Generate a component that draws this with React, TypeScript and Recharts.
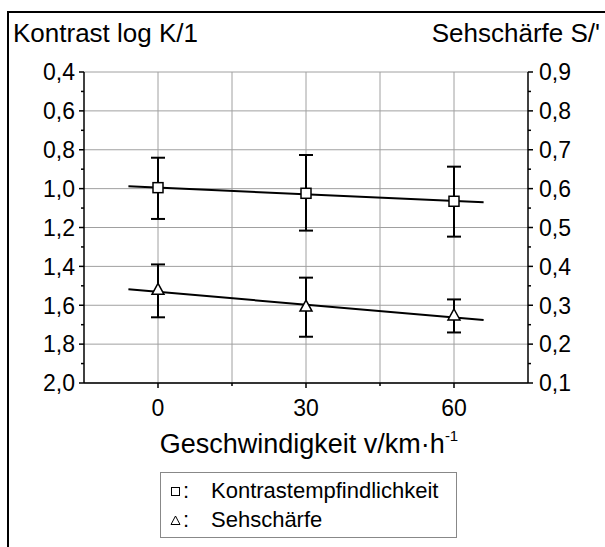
import React from "react";
import { ComposedChart, Scatter, XAxis, YAxis, CartesianGrid, ErrorBar } from "recharts";

const speeds = [0, 30, 60];
const contrast = [0.995, 1.024, 1.065];
const contrastUpper = [0.841, 0.827, 0.887];
const contrastLower = [1.156, 1.216, 1.247];
const acuity = [0.341, 0.298, 0.275];
const acuityHigh = [0.405, 0.371, 0.315];
const acuityLow = [0.269, 0.219, 0.23];

// Regressionsgeraden
const fitSpeeds = [-6, 66];
const contrastFit = [0.988, 1.07];
const acuityFit = [0.341, 0.262];

// Achsen
const leftMajor = [0.4, 0.6, 0.8, 1.0, 1.2, 1.4, 1.6, 1.8, 2.0];
const leftMinor = [0.5, 0.7, 0.9, 1.1, 1.3, 1.5, 1.7, 1.9];
const rightMajor = [0.1, 0.2, 0.3, 0.4, 0.5, 0.6, 0.7, 0.8, 0.9];
const rightMinor = [0.15, 0.25, 0.35, 0.45, 0.55, 0.65, 0.75, 0.85];
const xMajor = [0, 30, 60];
const xMinor = [15, 45];
const xGrid = [0, 15, 30, 45, 60];

const legendRows = ["Kontrastempfindlichkeit", "Sehschärfe"];

const FONT = "'Liberation Sans', Arial, Helvetica, sans-serif";
const TICK_FONT = 23;
const TITLE_FONT = 26;

const contrastData = speeds.map((s, i) => ({
  x: s,
  y: contrast[i],
  err: [contrast[i] - contrastUpper[i], contrastLower[i] - contrast[i]],
}));
const acuityData = speeds.map((s, i) => ({
  x: s,
  y: acuity[i],
  err: [acuity[i] - acuityLow[i], acuityHigh[i] - acuity[i]],
}));
const contrastFitData = fitSpeeds.map((s, i) => ({ x: s, y: contrastFit[i] }));
const acuityFitData = fitSpeeds.map((s, i) => ({ x: s, y: acuityFit[i] }));

const fmt = (v: number) => v.toFixed(1).replace(".", ",");
const isIn = (list: number[], v: number) => list.some((m) => Math.abs(m - v) < 1e-6);

const Square = (props: any) => {
  const { cx, cy } = props;
  return <rect x={cx - 5} y={cy - 5} width={10} height={10} fill="#fff" stroke="#000" strokeWidth={1.5} />;
};

const Triangle = (props: any) => {
  const { cx, cy } = props;
  return (
    <polygon
      points={`${cx},${cy - 6} ${cx - 6},${cy + 5} ${cx + 6},${cy + 5}`}
      fill="#fff"
      stroke="#000"
      strokeWidth={1.5}
    />
  );
};

const NoShape = () => <g />;

const LeftTick = (props: any) => {
  const { x, y, payload } = props;
  const major = isIn(leftMajor, payload.value);
  const ax = x + 9;
  return (
    <g>
      <line x1={ax - (major ? 5 : 3)} x2={ax} y1={y} y2={y} stroke="#000" strokeWidth={1.5} />
      {major && (
        <text x={x} y={y} dy="0.36em" textAnchor="end" fontSize={TICK_FONT} fill="#000" fontFamily={FONT}>
          {fmt(payload.value)}
        </text>
      )}
    </g>
  );
};

const RightTick = (props: any) => {
  const { x, y, payload } = props;
  const major = isIn(rightMajor, payload.value);
  const ax = x - 11;
  return (
    <g>
      <line x1={ax} x2={ax + (major ? 5 : 3)} y1={y} y2={y} stroke="#000" strokeWidth={1.5} />
      {major && (
        <text x={x} y={y} dy="0.36em" textAnchor="start" fontSize={TICK_FONT} fill="#000" fontFamily={FONT}>
          {fmt(payload.value)}
        </text>
      )}
    </g>
  );
};

const BottomTick = (props: any) => {
  const { x, y, payload } = props;
  const major = isIn(xMajor, payload.value);
  const ay = y - 17;
  return (
    <g>
      <line x1={x} x2={x} y1={ay} y2={ay + (major ? 5 : 3)} stroke="#000" strokeWidth={1.5} />
      {major && (
        <text x={x} y={y} dy="0.71em" textAnchor="middle" fontSize={TICK_FONT} fill="#000" fontFamily={FONT}>
          {payload.value}
        </text>
      )}
    </g>
  );
};

const XTitle = (props: any) => {
  const { viewBox } = props;
  return (
    <text
      x={viewBox.x + viewBox.width / 2 + 3}
      y={viewBox.y + 70}
      textAnchor="middle"
      fontSize={27}
      fill="#000"
      fontFamily={FONT}>
      Geschwindigkeit v/km·h
      <tspan dy={-12} fontSize={15}>
        -1
      </tspan>
    </text>
  );
};

const LeftTitle = () => (
  <text x={13} y={42} textAnchor="start" fontSize={TITLE_FONT} fill="#000" fontFamily={FONT}>
    Kontrast log K/1
  </text>
);

const RightTitle = () => (
  <text x={600} y={42} textAnchor="end" fontSize={TITLE_FONT} fill="#000" fontFamily={FONT}>
    Sehschärfe S/'
  </text>
);

const LegendBox = () => (
  <div
    style={{
      position: "absolute",
      left: 160,
      top: 472,
      width: 297,
      height: 66,
      boxSizing: "border-box",
      border: "1px solid #888",
      background: "#fff",
      fontFamily: FONT,
      fontSize: 22,
      color: "#000",
      paddingTop: 3,
    }}>
    {legendRows.map((label, i) => (
      <div key={label} style={{ display: "flex", alignItems: "center", height: 29, lineHeight: "29px" }}>
        <svg width={20} height={20} style={{ flex: "none", marginLeft: 8 }}>
          {i === 0 ? (
            <rect x={2.5} y={6.5} width={8} height={8} fill="none" stroke="#000" strokeWidth={1} />
          ) : (
            <polygon points="6.5,6 2,14.5 11,14.5" fill="none" stroke="#000" strokeWidth={1} />
          )}
        </svg>
        <span style={{ width: 28, marginLeft: -6 }}>:</span>
        <span>{label}</span>
      </div>
    ))}
  </div>
);

export default function App() {
  return (
    <div
      style={{
        position: "absolute",
        left: 0,
        top: 0,
        width: 605,
        height: 547,
        overflow: "hidden",
        background: "#fff",
      }}>
      <div
        style={{
          position: "absolute",
          left: 7,
          top: 11,
          width: 700,
          height: 700,
          borderLeft: "2px solid #000",
          borderTop: "2px solid #000",
        }}
      />
      <div style={{ position: "absolute", left: 0, top: 0 }}>
        <ComposedChart
          width={605}
          height={547}
          margin={{ top: 72, right: 0, bottom: 84, left: 0 }}
          style={{ fontFamily: FONT }}>
          <CartesianGrid
            xAxisId="x"
            yAxisId="left"
            stroke="#a0a0a0"
            strokeWidth={1}
            horizontalValues={leftMajor}
            verticalValues={xGrid}
          />
          <XAxis
            xAxisId="x"
            dataKey="x"
            type="number"
            domain={[-15, 75]}
            allowDataOverflow
            ticks={[...xMajor, ...xMinor].sort((a, b) => a - b)}
            interval={0}
            tick={BottomTick}
            tickLine={false}
            tickSize={5}
            tickMargin={12}
            height={80}
            axisLine={{ stroke: "#000", strokeWidth: 1.5 }}
            label={{ content: XTitle }}
          />
          <XAxis
            xAxisId="top"
            orientation="top"
            type="number"
            domain={[-15, 75]}
            tick={false}
            tickLine={false}
            height={0}
            axisLine={{ stroke: "#000", strokeWidth: 1.5 }}
          />
          <YAxis
            yAxisId="left"
            dataKey="y"
            type="number"
            domain={[0.4, 2.0]}
            reversed
            allowDataOverflow
            ticks={[...leftMajor, ...leftMinor].sort((a, b) => a - b)}
            interval={0}
            tick={LeftTick}
            tickLine={false}
            tickSize={5}
            tickMargin={4}
            width={84}
            axisLine={{ stroke: "#000", strokeWidth: 1.5 }}
            label={{ content: LeftTitle }}
          />
          <YAxis
            yAxisId="right"
            orientation="right"
            dataKey="y"
            type="number"
            domain={[0.1, 0.9]}
            allowDataOverflow
            ticks={[...rightMajor, ...rightMinor].sort((a, b) => a - b)}
            interval={0}
            tick={RightTick}
            tickLine={false}
            tickSize={5}
            tickMargin={6}
            width={77}
            axisLine={{ stroke: "#000", strokeWidth: 1.5 }}
            label={{ content: RightTitle }}
          />
          <Scatter
            data={contrastFitData}
            xAxisId="x"
            yAxisId="left"
            line={{ stroke: "#000", strokeWidth: 2 }}
            shape={NoShape}
            legendType="none"
            isAnimationActive={false}
          />
          <Scatter
            data={acuityFitData}
            xAxisId="x"
            yAxisId="right"
            line={{ stroke: "#000", strokeWidth: 2 }}
            shape={NoShape}
            legendType="none"
            isAnimationActive={false}
          />
          <Scatter
            name="Kontrastempfindlichkeit"
            data={contrastData}
            xAxisId="x"
            yAxisId="left"
            shape={Square}
            isAnimationActive={false}>
            <ErrorBar dataKey="err" direction="y" width={7} stroke="#000" strokeWidth={2} isAnimationActive={false} />
          </Scatter>
          <Scatter
            name="Sehschärfe"
            data={acuityData}
            xAxisId="x"
            yAxisId="right"
            shape={Triangle}
            isAnimationActive={false}>
            <ErrorBar dataKey="err" direction="y" width={7} stroke="#000" strokeWidth={2} isAnimationActive={false} />
          </Scatter>
        </ComposedChart>
      </div>
      <LegendBox />
    </div>
  );
}
